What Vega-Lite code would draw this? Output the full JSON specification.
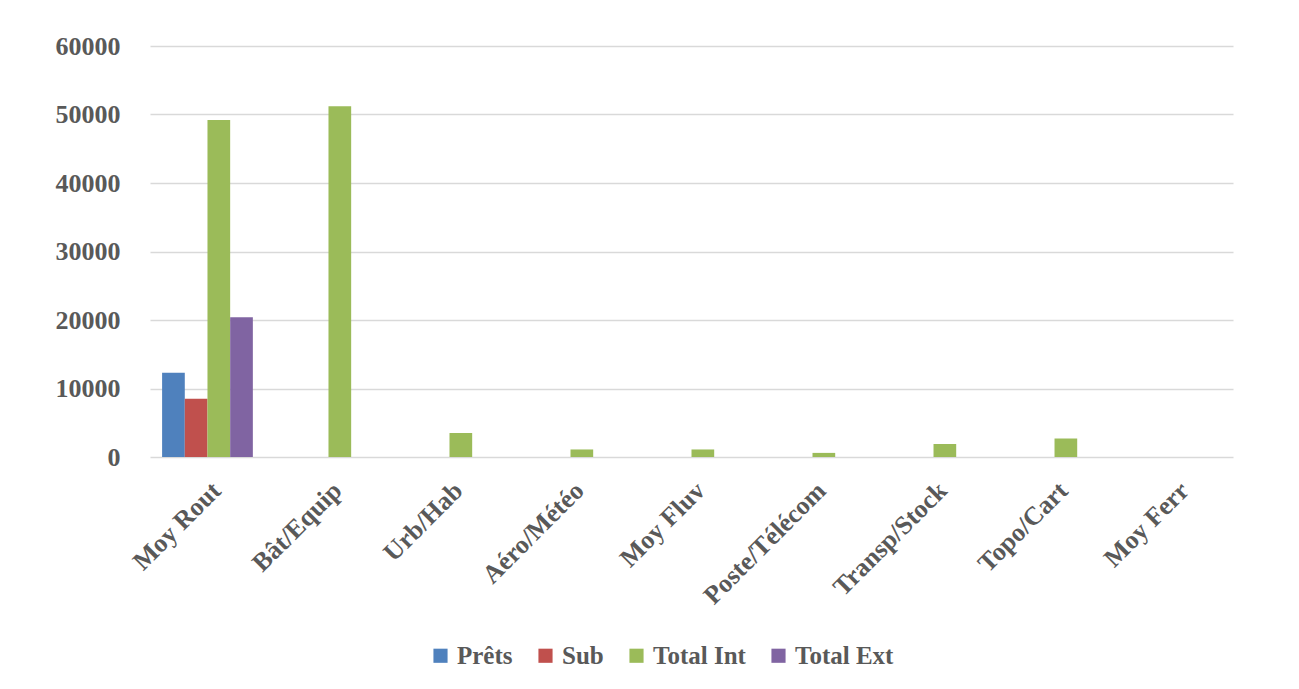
{
  "$schema": "https://vega.github.io/schema/vega-lite/v6.json",
  "width": 1083,
  "height": 411,
  "autosize": "none",
  "padding": {"left": 150, "top": 46, "right": 66, "bottom": 232},
  "background": "white",
  "data": {
    "values": [
      {"cat": "Moy Rout", "serie": "Prêts", "v": 12300},
      {"cat": "Moy Rout", "serie": "Sub", "v": 8500},
      {"cat": "Moy Rout", "serie": "Total Int", "v": 49200},
      {"cat": "Moy Rout", "serie": "Total Ext", "v": 20400},
      {"cat": "Bât/Equip", "serie": "Prêts", "v": 0},
      {"cat": "Bât/Equip", "serie": "Sub", "v": 0},
      {"cat": "Bât/Equip", "serie": "Total Int", "v": 51200},
      {"cat": "Bât/Equip", "serie": "Total Ext", "v": 0},
      {"cat": "Urb/Hab", "serie": "Prêts", "v": 0},
      {"cat": "Urb/Hab", "serie": "Sub", "v": 0},
      {"cat": "Urb/Hab", "serie": "Total Int", "v": 3500},
      {"cat": "Urb/Hab", "serie": "Total Ext", "v": 0},
      {"cat": "Aéro/Météo", "serie": "Prêts", "v": 0},
      {"cat": "Aéro/Météo", "serie": "Sub", "v": 0},
      {"cat": "Aéro/Météo", "serie": "Total Int", "v": 1100},
      {"cat": "Aéro/Météo", "serie": "Total Ext", "v": 0},
      {"cat": "Moy Fluv", "serie": "Prêts", "v": 0},
      {"cat": "Moy Fluv", "serie": "Sub", "v": 0},
      {"cat": "Moy Fluv", "serie": "Total Int", "v": 1100},
      {"cat": "Moy Fluv", "serie": "Total Ext", "v": 0},
      {"cat": "Poste/Télécom", "serie": "Prêts", "v": 0},
      {"cat": "Poste/Télécom", "serie": "Sub", "v": 0},
      {"cat": "Poste/Télécom", "serie": "Total Int", "v": 600},
      {"cat": "Poste/Télécom", "serie": "Total Ext", "v": 0},
      {"cat": "Transp/Stock", "serie": "Prêts", "v": 0},
      {"cat": "Transp/Stock", "serie": "Sub", "v": 0},
      {"cat": "Transp/Stock", "serie": "Total Int", "v": 1900},
      {"cat": "Transp/Stock", "serie": "Total Ext", "v": 0},
      {"cat": "Topo/Cart", "serie": "Prêts", "v": 0},
      {"cat": "Topo/Cart", "serie": "Sub", "v": 0},
      {"cat": "Topo/Cart", "serie": "Total Int", "v": 2700},
      {"cat": "Topo/Cart", "serie": "Total Ext", "v": 0},
      {"cat": "Moy Ferr", "serie": "Prêts", "v": 0},
      {"cat": "Moy Ferr", "serie": "Sub", "v": 0},
      {"cat": "Moy Ferr", "serie": "Total Int", "v": 0},
      {"cat": "Moy Ferr", "serie": "Total Ext", "v": 0}
    ]
  },
  "mark": {"type": "bar", "stroke": null},
  "encoding": {
    "x": {
      "field": "cat",
      "type": "nominal",
      "sort": null,
      "title": null,
      "scale": {"paddingInner": 0.25, "paddingOuter": 0.1},
      "axis": {
        "labelAngle": -45,
        "labelFont": "Liberation Serif",
        "labelFontWeight": "bold",
        "labelFontSize": 26,
        "labelColor": "#595959",
        "labelPadding": 20,
        "domain": false,
        "ticks": false,
        "grid": false
      }
    },
    "xOffset": {"field": "serie", "type": "nominal", "sort": ["Prêts", "Sub", "Total Int", "Total Ext"]},
    "y": {
      "field": "v",
      "type": "quantitative",
      "title": null,
      "scale": {"domain": [0, 60000]},
      "axis": {
        "values": [0, 10000, 20000, 30000, 40000, 50000, 60000],
        "format": "d",
        "labelFont": "Liberation Serif",
        "labelFontWeight": "bold",
        "labelFontSize": 26,
        "labelColor": "#595959",
        "labelPadding": 30,
        "domain": false,
        "ticks": false,
        "grid": true,
        "gridColor": "#d9d9d9",
        "gridWidth": 1.5
      }
    },
    "color": {
      "field": "serie",
      "type": "nominal",
      "sort": ["Prêts", "Sub", "Total Int", "Total Ext"],
      "scale": {
        "domain": ["Prêts", "Sub", "Total Int", "Total Ext"],
        "range": ["#4f81bd", "#c0504d", "#9bbb59", "#8064a2"]
      },
      "legend": {
        "title": null,
        "orient": "none",
        "direction": "horizontal",
        "legendX": 278,
        "legendY": 597,
        "symbolType": "square",
        "symbolSize": 200,
        "symbolStrokeWidth": 0,
        "labelFont": "Liberation Serif",
        "labelFontWeight": "bold",
        "labelFontSize": 25,
        "labelColor": "#595959",
        "columnPadding": 20,
        "labelOffset": 4
      }
    }
  },
  "config": {"view": {"stroke": null}}
}
